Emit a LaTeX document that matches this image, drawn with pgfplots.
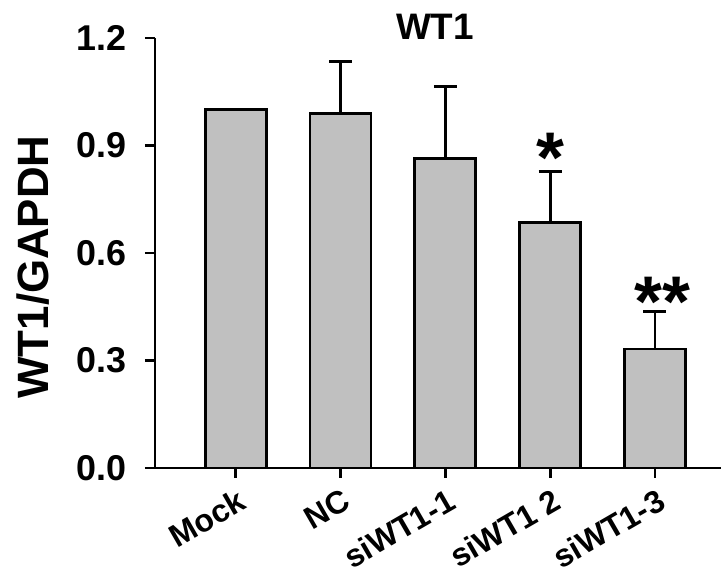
\documentclass[border=0pt]{standalone}
\usepackage{fontspec}
\setmainfont{Liberation Sans}
\usepackage{pgfplots}
\pgfplotsset{compat=1.18}
\definecolor{barfill}{RGB}{192,192,192}
\begin{document}
\begin{tikzpicture}[x=1bp,y=1bp]
\begin{axis}[
  at={(0,0)}, anchor=south west,
  scale only axis, width=566bp, height=430bp,
  xmin=-0.77, xmax=4.63, ymin=0, ymax=1.2,
  axis x line*=bottom, axis y line*=left,
  axis line style={-, line width=2.8bp, black},
  xtick={0,1,2,3,4},
  xticklabels={Mock,NC,siWT1-1,siWT1 2,siWT1-3},
  ytick={0,0.3,0.6,0.9,1.2},
  yticklabels={0.0,0.3,0.6,0.9,1.2},
  tick align=outside, major tick length=10bp,
  tick style={line width=2.8bp, black},
  /pgf/number format/assume math mode=true,
  yticklabel style={font=\fontsize{36}{36}\selectfont\bfseries, anchor=east, inner sep=0pt, xshift=-18bp},
  xticklabel style={font=\fontsize{32}{32}\selectfont\bfseries, rotate=30, anchor=north east, inner sep=0pt, xshift=-4bp, yshift=-9bp},
  clip=false,
]
\addplot[ybar, bar width=61bp, fill=barfill, draw=black, line width=2.8bp,
  error bars/.cd, y dir=plus, y explicit,
  error bar style={line width=2.8bp, black},
  error mark options={rotate=90, mark size=11.5bp, line width=2.8bp, black}]
  coordinates {
  (0,1.000) +- (0,0.000)
  (1,0.990) +- (0,0.144)
  (2,0.863) +- (0,0.201)
  (3,0.684) +- (0,0.143)
  (4,0.332) +- (0,0.104)
  };
\node[anchor=north, inner sep=0pt, font=\fontsize{72}{72}\selectfont\bfseries] at (axis cs:3,0.936) {*};
\node[anchor=north, inner sep=0pt, font=\fontsize{72}{72}\selectfont\bfseries] at (axis cs:4.07,0.534) {**};
\end{axis}
\node[anchor=base, inner sep=0pt, font=\fontsize{37}{37}\selectfont\bfseries] at (280,428) {WT1};
\node[rotate=90, inner sep=0pt, font=\fontsize{44}{44}\selectfont\bfseries] at (-122,201) {WT1/GAPDH};
\pgfresetboundingbox
\path (-155,-109) rectangle (566,468);
\end{tikzpicture}
\end{document}
